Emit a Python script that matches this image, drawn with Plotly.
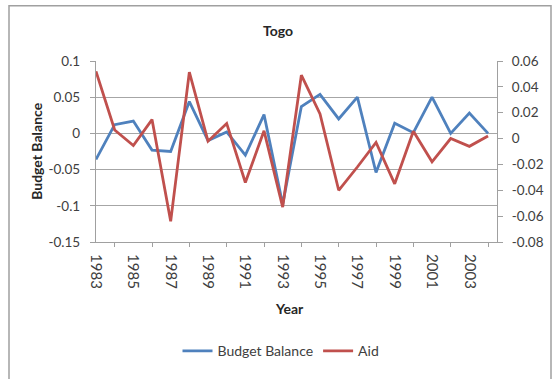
import plotly.graph_objects as go

years = list(range(1983, 2005))
budget_balance = [-0.036, 0.012, 0.017, -0.023, -0.025, 0.044, -0.010, 0.002,
                  -0.030, 0.026, -0.098, 0.037, 0.054, 0.020, 0.050, -0.054,
                  0.014, 0.001, 0.050, 0.000, 0.028, 0.000]
aid = [0.052, 0.0066, -0.0054, 0.0147, -0.064, 0.0514, -0.002, 0.0117,
       -0.034, 0.006, -0.053, 0.049, 0.019, -0.040, -0.022, -0.003,
       -0.035, 0.0056, -0.018, 0.000, -0.006, 0.002]
label_years = list(range(1983, 2004, 2))
tick_years = list(range(1984, 2005, 2))
left_ticks = [0.1, 0.05, 0, -0.05, -0.1, -0.15]
right_ticks = [0.06, 0.04, 0.02, 0, -0.02, -0.04, -0.06, -0.08]

FONT = "Lato"
fig = go.Figure()
fig.add_trace(go.Scatter(x=years, y=budget_balance, name="Budget Balance", mode="lines",
                         line=dict(color="#4F81BD", width=2.8)))
fig.add_trace(go.Scatter(x=years, y=aid, name="Aid", mode="lines", yaxis="y2",
                         line=dict(color="#C0504D", width=2.8)))

W, H = 555, 379
L, R, T, B = 96, 497, 61, 244.3
pw, ph = R - L, B - T

def px(x):
    return (x - L) / pw

def py(y):
    return (B - y) / ph

fig.update_layout(
    width=W, height=H,
    margin=dict(l=L, r=W - R, t=T, b=H - B),
    paper_bgcolor="white", plot_bgcolor="white",
    font=dict(family=FONT, size=13, color="#404040"),
    showlegend=True,
    legend=dict(orientation="h", x=px(281), xanchor="center", y=py(355), yanchor="middle",
                font=dict(size=14, color="#404040"), itemwidth=30),
    xaxis=dict(range=[1983, 2004.48], tickmode="array", tickvals=label_years,
               ticktext=[str(y) for y in label_years], tickangle=90, ticks="",
               ticklabelstandoff=8,
               showline=True, linecolor="#A0A0A0", linewidth=1.2, showgrid=False,
               zeroline=False, tickfont=dict(size=15),
               minor=dict(tickmode="array", tickvals=tick_years, ticks="outside",
                          ticklen=4, tickcolor="#A0A0A0", showgrid=False)),
    yaxis=dict(range=[-0.15, 0.1], tickmode="array", tickvals=left_ticks,
               ticktext=["0.1", "0.05", "0", "-0.05", "-0.1", "-0.15"],
               ticks="outside", ticklen=5, tickcolor="#A0A0A0", ticklabelstandoff=7,
               showline=True, linecolor="#A0A0A0", linewidth=1.2,
               showgrid=True, gridcolor="#A6A6A6", gridwidth=1, zeroline=False,
               tickfont=dict(size=13.5)),
    yaxis2=dict(range=[-0.08, 0.06], overlaying="y", side="right", tickmode="array",
                tickvals=right_ticks,
                ticktext=["0.06", "0.04", "0.02", "0", "-0.02", "-0.04", "-0.06", "-0.08"],
                ticks="outside", ticklen=5, tickcolor="#A0A0A0", ticklabelstandoff=6,
                showline=True, linecolor="#A0A0A0", linewidth=1.2,
                showgrid=False, zeroline=False, tickfont=dict(size=13.5)),
    shapes=[dict(type="rect", xref="paper", yref="paper",
                 x0=px(9), x1=px(551), y0=py(390), y1=py(5),
                 line=dict(color="#A0A0A0", width=1.5), fillcolor="rgba(0,0,0,0)",
                 layer="below")],
    annotations=[
        dict(text="<b>Togo</b>", xref="paper", yref="paper", x=px(278), y=py(30),
             showarrow=False, font=dict(size=14, color="#262626"), xanchor="center", yanchor="middle"),
        dict(text="<b>Budget Balance</b>", xref="paper", yref="paper", x=px(37), y=py(152),
             showarrow=False, textangle=-90, font=dict(size=14, color="#262626"),
             xanchor="center", yanchor="middle"),
        dict(text="<b>Year</b>", xref="paper", yref="paper", x=px(289), y=py(312),
             showarrow=False, font=dict(size=14, color="#262626"), xanchor="center", yanchor="middle"),
    ],
)

fig.write_html("out.html", config={"displayModeBar": False},
               post_script="document.body.style.margin='0';document.body.style.overflow='hidden';")
